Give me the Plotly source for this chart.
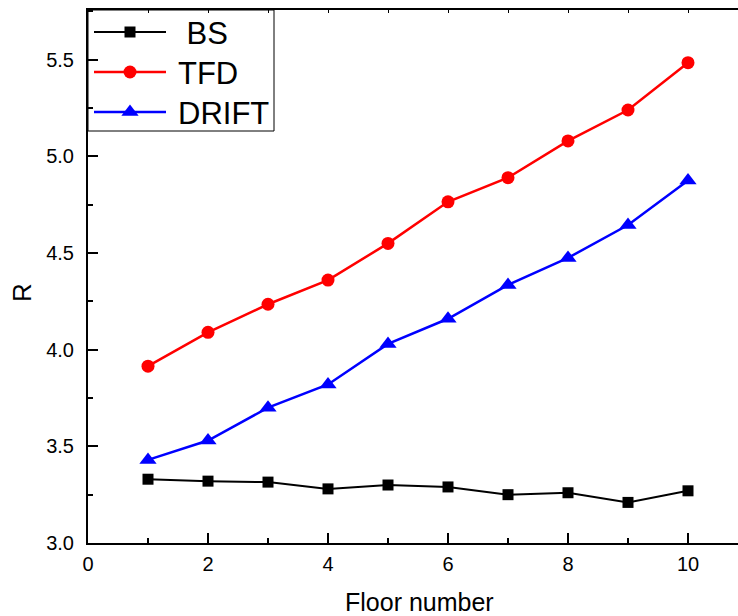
import plotly.graph_objects as go

# Floor numbers and the R value of each method
floors = [1, 2, 3, 4, 5, 6, 7, 8, 9, 10]
bs = [3.33, 3.32, 3.315, 3.28, 3.30, 3.29, 3.25, 3.26, 3.21, 3.27]
tfd = [3.915, 4.09, 4.235, 4.36, 4.55, 4.765, 4.89, 5.08, 5.24, 5.485]
drift = [3.43, 3.53, 3.70, 3.82, 4.03, 4.16, 4.335, 4.475, 4.645, 4.875]

series_names = ["\u00a0BS", "TFD", "DRIFT"]
series_colors = ["black", "#ff0000", "#0000ff"]
series_symbols = ["square", "circle", "triangle-up"]
series_sizes = [11, 13, 15]
series_widths = [2, 2.5, 2.5]

x_ticks = [0, 2, 4, 6, 8, 10]
y_ticks = [3.0, 3.5, 4.0, 4.5, 5.0, 5.5]

FONT = "Arial, Liberation Sans, sans-serif"

# page geometry (px)
W, H = 738, 616
L, R_, T, B = 88, 0, 10, 73
PW, PH = W - L - R_, H - T - B
PX_PER_FLOOR = 60
PX_PER_R = 193.3


def px_x(px):
    """paper x fraction for a page pixel column"""
    return (px - L) / PW


def px_y(py):
    """paper y fraction for a page pixel row"""
    return (H - B - py) / PH


fig = go.Figure()
for name, ys, col, sym, size, lw in zip(series_names, [bs, tfd, drift], series_colors,
                                        series_symbols, series_sizes, series_widths):
    fig.add_trace(go.Scatter(
        x=floors, y=ys, name=name, mode="lines+markers", showlegend=False,
        line=dict(color=col, width=lw),
        marker=dict(symbol=sym, size=size, color=col),
    ))

# legend box in the upper left corner
LEG_LEFT, LEG_RIGHT, LEG_TOP, LEG_BOTTOM = 88, 274, 10, 131
LEG_ROWS = [32, 72, 112]
LEG_LINE = (94, 166)
LEG_MARK = 130
LEG_TEXT = 176

shapes = [dict(type="rect", xref="paper", yref="paper",
               x0=px_x(LEG_LEFT), x1=px_x(LEG_RIGHT), y0=px_y(LEG_BOTTOM), y1=px_y(LEG_TOP),
               line=dict(color="black", width=1), fillcolor="white", layer="below")]
annotations = []
for name, row, col, lw in zip(series_names, LEG_ROWS, series_colors, series_widths):
    shapes.append(dict(type="line", xref="paper", yref="paper",
                       x0=px_x(LEG_LINE[0]), x1=px_x(LEG_LINE[1]), y0=px_y(row), y1=px_y(row),
                       line=dict(color=col, width=lw), layer="below"))
    annotations.append(dict(text=name, xref="paper", yref="paper",
                            x=px_x(LEG_TEXT), y=px_y(row + 1), xanchor="left", yanchor="middle",
                            showarrow=False, font=dict(size=31, family=FONT, color="black")))

# legend key markers, one trace per series so each keeps a plain marker style
for row, col, sym, size in zip(LEG_ROWS, series_colors, series_symbols, series_sizes):
    fig.add_trace(go.Scatter(
        x=[(LEG_MARK - L) / PX_PER_FLOOR], y=[row],
        xaxis="x2", yaxis="y2", mode="markers", showlegend=False, hoverinfo="skip",
        marker=dict(symbol=sym, size=size, color=col, opacity=1),
    ))

annotations += [
    dict(text="Floor number", xref="paper", yref="paper",
         x=px_x(419), y=px_y(602),
         xanchor="center", yanchor="middle", showarrow=False,
         font=dict(size=25, family=FONT, color="black")),
    dict(text="R", xref="paper", yref="paper",
         x=px_x(22), y=px_y(293),
         xanchor="center", yanchor="middle", showarrow=False, textangle=-90,
         font=dict(size=26, family=FONT, color="black")),
]

fig.update_layout(
    width=W, height=H,
    margin=dict(l=L, r=R_, t=T, b=B, pad=0),
    paper_bgcolor="white", plot_bgcolor="white",
    font=dict(family=FONT, color="black"),
    showlegend=False,
    xaxis=dict(
        range=[0, PW / PX_PER_FLOOR], showgrid=False, zeroline=False,
        showline=True, linecolor="black", linewidth=2,
        tickmode="array", tickvals=x_ticks, ticktext=[str(v) for v in x_ticks],
        ticks="inside", ticklen=10, tickwidth=2, tickcolor="black",
        tickfont=dict(size=20, family=FONT, color="black"),
        ticklabelstandoff=2,
        minor=dict(dtick=1, tick0=0, ticks="inside", ticklen=5, tickwidth=2,
                   tickcolor="black", showgrid=False),
    ),
    xaxis2=dict(
        overlaying="x", matches="x", side="top", anchor="y2",
        showgrid=False, zeroline=False, showline=True,
        linecolor="black", linewidth=2,
        tickmode="linear", tick0=0, dtick=1,
        ticks="inside", ticklen=3, tickwidth=1, tickcolor="black",
        showticklabels=False,
    ),
    yaxis=dict(
        range=[3.0, 3.0 + PH / PX_PER_R], showgrid=False, zeroline=False,
        showline=True, linecolor="black", linewidth=2,
        tickmode="array", tickvals=y_ticks, ticktext=[f"{v:.1f}" for v in y_ticks],
        ticks="inside", ticklen=10, tickwidth=2, tickcolor="black",
        tickfont=dict(size=20, family=FONT, color="black"),
        ticklabelstandoff=8,
        minor=dict(dtick=0.25, tick0=3.0, ticks="inside", ticklen=5, tickwidth=2,
                   tickcolor="black", showgrid=False),
    ),
    yaxis2=dict(
        overlaying="y", range=[H - B, T], visible=False,
    ),
    shapes=shapes,
    annotations=annotations,
)

fig.write_html("out.html")
